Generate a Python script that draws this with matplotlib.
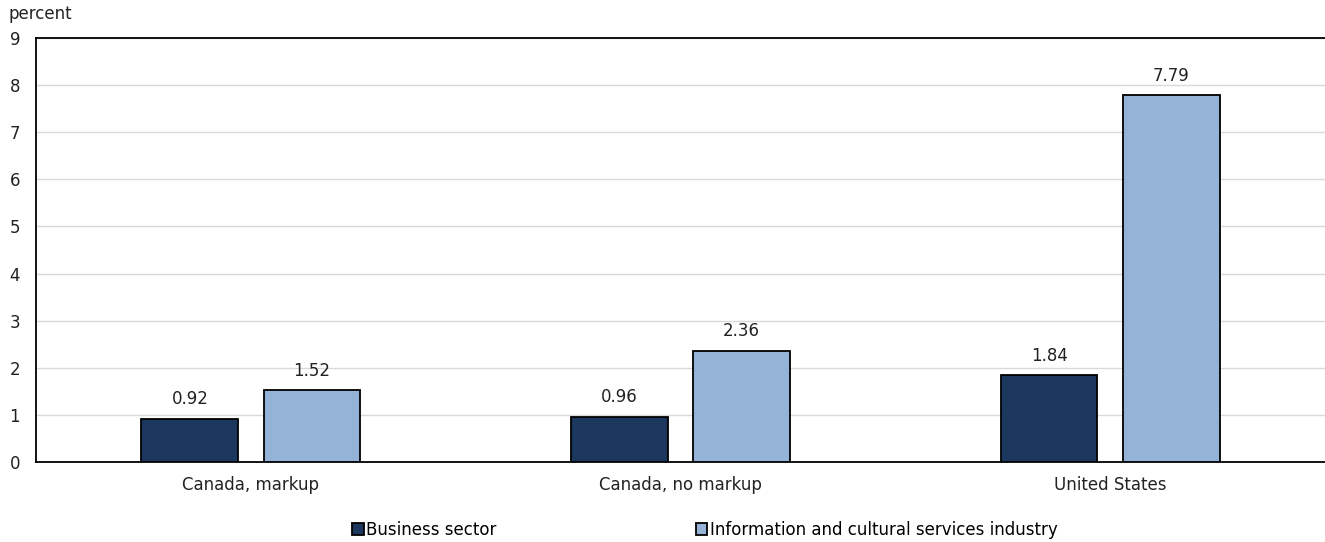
import numpy as np
import matplotlib
matplotlib.use("Agg")
import matplotlib.pyplot as plt

categories = ["Canada, markup", "Canada, no markup", "United States"]
business = [0.92, 0.96, 1.84]
info_cultural = [1.52, 2.36, 7.79]
series_names = ["Business sector", "Information and cultural services industry"]

plt.rcParams["font.family"] = ["DejaVu Sans"]
plt.rcParams["font.size"] = 12

fig = plt.figure(figsize=(13.25, 5.42), dpi=100)
ax = fig.add_axes([36 / 1325, 1 - 462 / 542, 1 - 36 / 1325, (462 - 38) / 542])

x = np.arange(len(categories))
w = 0.225
off = 0.142
b1 = ax.bar(x - off, business, w, color="#1b375e", edgecolor="black", linewidth=1.3, zorder=3)
b2 = ax.bar(x + off, info_cultural, w, color="#95b3d7", edgecolor="black", linewidth=1.3, zorder=3)

for bars, vals in [(b1, business), (b2, info_cultural)]:
    for r, v in zip(bars, vals):
        ax.text(r.get_x() + r.get_width() / 2, v + 0.22, f"{v:.2f}",
                ha="center", va="bottom", fontsize=12, color="#222222")

ax.set_xlim(-0.5, 2.5)
ax.set_ylim(0, 9)
ax.set_yticks(range(10))
ax.set_xticks(x)
ax.set_xticklabels(categories)
ax.tick_params(axis="both", length=0, labelsize=12, colors="#222222")
ax.tick_params(axis="x", pad=10)
for lab in ax.get_yticklabels():
    lab.set_horizontalalignment("left")
ax.yaxis.set_tick_params(pad=19)
ax.grid(axis="y", color="#d9d9d9", linewidth=1, zorder=0)
ax.spines["right"].set_visible(False)
for s in ["left", "bottom", "top"]:
    ax.spines[s].set_linewidth(1.3)
    ax.spines[s].set_color("black")

fig.text(8 / 1325, 1 - 14 / 542, "percent", fontsize=12, va="center", ha="left", color="#222222")

leg = fig.legend([b1, b2], series_names, loc="center", ncol=2,
                 bbox_to_anchor=(0.532, 1 - 530 / 542), frameon=False,
                 handlelength=0.7, handleheight=0.7, handletextpad=0.15,
                 columnspacing=11.95, fontsize=12)

fig.savefig("out.png", dpi=100)
